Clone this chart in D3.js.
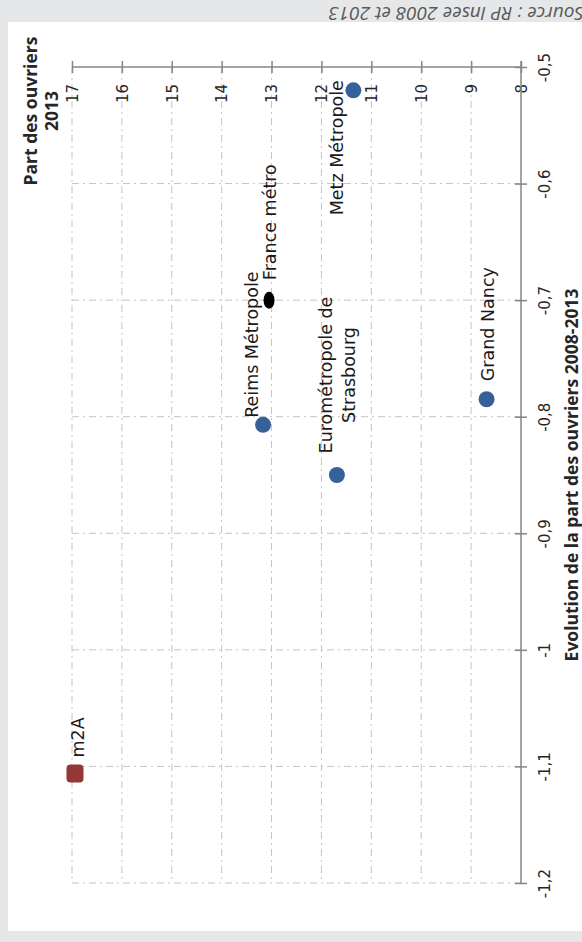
<!DOCTYPE html>
<html>
<head>
<meta charset="utf-8">
<script src="https://cdn.jsdelivr.net/npm/d3@7"></script>
<style>
  html, body { margin: 0; padding: 0; background: #e6e7e8; }
  svg { display: block; }
</style>
</head>
<body>
<svg id="chart" width="582" height="942"></svg>
<script>
// Territories and their values
const territories = ["Metz Métropole", "Grand Nancy", "Reims Métropole", "Eurométropole de Strasbourg", "France métro", "m2A"];
const part2013 = [11.36, 8.69, 13.17, 11.69, 13.05, 16.94];      // % of workers (ouvriers) in 2013
const evol0813 = [-0.52, -0.785, -0.807, -0.85, -0.70, -1.106];  // change in points 2008-2013
const markerKind = ["epci", "epci", "epci", "epci", "france", "m2a"];

// Axis ticks
const partTicks = [8, 9, 10, 11, 12, 13, 14, 15, 16, 17];
const evolTicks = [-1.2, -1.1, -1, -0.9, -0.8, -0.7, -0.6, -0.5];

// Text
const partTitle = ["Part des ouvriers", "2013"];
const evolTitle = "Evolution de la part des ouvriers 2008-2013";
const sourceText = "Source : RP Insee 2008 et 2013";

const fr = d3.formatLocale({ decimal: ",", thousands: " ", grouping: [3], currency: ["", " €"], minus: "-" });
const fmt = fr.format("~g");

const svg = d3.select("#chart");
const labelFont = "'DejaVu Sans', Verdana, sans-serif";
const titleFont = "'Open Sans', sans-serif";

// panel
svg.append("rect").attr("x", 8).attr("y", 22).attr("width", 574).attr("height", 909).attr("fill", "#ffffff");

// source line, set upside down along the top band
svg.append("text")
  .attr("transform", "translate(584,7) rotate(180)")
  .attr("font-family", titleFont).attr("font-style", "italic")
  .attr("font-size", 19).attr("fill", "#595959")
  .text(sourceText);

// The plot is laid out turned a quarter turn: share of workers runs along the top, change runs down the right side
const x = d3.scaleLinear().domain([17, 8]).range([72, 521]);
const y = d3.scaleLinear().domain([-0.5, -1.2]).range([67, 883]);

const grid = svg.append("g").attr("stroke", "#c4c4c4").attr("stroke-width", 1)
  .attr("stroke-dasharray", "7,4,2,4").attr("fill", "none");
grid.selectAll("line.v").data(partTicks.filter(d => d !== 8)).join("line")
  .attr("class", "v")
  .attr("x1", d => x(d)).attr("x2", d => x(d))
  .attr("y1", y(-0.5)).attr("y2", y(-1.2));
grid.selectAll("line.h").data(evolTicks.filter(d => d !== -0.5)).join("line")
  .attr("class", "h")
  .attr("x1", x(17)).attr("x2", x(8))
  .attr("y1", d => y(d)).attr("y2", d => y(d));

const axisColor = "#868686";

// share axis (top)
const gPart = svg.append("g").attr("transform", `translate(0,${y(-0.5)})`)
  .call(d3.axisBottom(x).tickValues(partTicks).tickFormat(fmt).tickSizeOuter(0));
gPart.select(".domain").attr("stroke", axisColor).attr("stroke-width", 1.5)
  .attr("d", `M${x(17)},0H${x(8)}`);
gPart.selectAll(".tick line").attr("stroke", axisColor).attr("stroke-width", 1.5).attr("y1", -6).attr("y2", 6);
gPart.selectAll(".tick text")
  .attr("x", 0).attr("y", 0).attr("dy", "0.35em")
  .attr("transform", "translate(0,17) rotate(-90)")
  .attr("text-anchor", "end")
  .attr("font-family", labelFont).attr("font-size", 15).attr("fill", "#262626");

// change axis (right)
const gEvol = svg.append("g").attr("transform", `translate(${x(8)},0)`)
  .call(d3.axisRight(y).tickValues(evolTicks).tickFormat(fmt).tickSizeOuter(0));
gEvol.select(".domain").attr("stroke", axisColor).attr("stroke-width", 1.5)
  .attr("d", `M0,${y(-0.5) - 6}V${y(-1.2)}`);
gEvol.selectAll(".tick line").attr("stroke", axisColor).attr("stroke-width", 1.5).attr("x1", -6).attr("x2", 6);
gEvol.selectAll(".tick text")
  .attr("x", 0).attr("y", 0).attr("dy", "0.35em")
  .attr("transform", "translate(24,0) rotate(-90)")
  .attr("text-anchor", "middle")
  .attr("font-family", labelFont).attr("font-size", 15).attr("fill", "#262626");

// axis titles
const tTitle = svg.append("text")
  .attr("transform", `translate(31,${y(-0.5) + 44}) rotate(-90)`)
  .attr("text-anchor", "middle")
  .attr("font-family", titleFont).attr("font-weight", 700).attr("font-size", 17.5).attr("fill", "#262626");
tTitle.selectAll("tspan").data(partTitle).join("tspan")
  .attr("x", 0).attr("dy", (d, i) => i === 0 ? "0.35em" : "1.2em").text(d => d);

svg.append("text")
  .attr("transform", `translate(572,${(y(-0.5) + y(-1.2)) / 2}) rotate(-90)`)
  .attr("text-anchor", "middle").attr("dy", "0.35em")
  .attr("font-family", titleFont).attr("font-weight", 700).attr("font-size", 17.5).attr("fill", "#262626")
  .text(evolTitle);

// markers
const pts = territories.map((name, i) => ({ name, part: part2013[i], evol: evol0813[i], kind: markerKind[i] }));
const gPts = svg.append("g");
gPts.selectAll("circle.epci").data(pts.filter(d => d.kind === "epci")).join("circle")
  .attr("class", "epci")
  .attr("cx", d => x(d.part)).attr("cy", d => y(d.evol)).attr("r", 8)
  .attr("fill", "#36609a");
gPts.selectAll("ellipse").data(pts.filter(d => d.kind === "france")).join("ellipse")
  .attr("cx", d => x(d.part)).attr("cy", d => y(d.evol)).attr("rx", 5.5).attr("ry", 8.5)
  .attr("fill", "#000000");
gPts.selectAll("rect").data(pts.filter(d => d.kind === "m2a")).join("rect")
  .attr("x", d => x(d.part) - 8.5).attr("y", d => y(d.evol) - 9)
  .attr("width", 17).attr("height", 18).attr("rx", 4)
  .attr("fill", "#943735");

// data labels, placed beside each marker
const labelPlace = {
  "Metz Métropole":              { dx: -16, dy: 125, anchor: "start", lines: ["Metz Métropole"] },
  "Grand Nancy":                 { dx: 1.5, dy: -18, anchor: "start", lines: ["Grand Nancy"] },
  "Reims Métropole":             { dx: -11, dy: -7, anchor: "start", lines: ["Reims Métropole"] },
  "Eurométropole de Strasbourg": { dx: -11, dy: -100, anchor: "middle", lines: ["Eurométropole de", "Strasbourg"] },
  "France métro":                { dx: 0.5, dy: -20, anchor: "start", lines: ["France métro"] },
  "m2A":                         { dx: 2.5, dy: -16, anchor: "start", lines: ["m2A"] }
};
const gLab = svg.append("g").attr("font-family", labelFont).attr("font-size", 17.5).attr("fill", "#1a1a1a");
pts.forEach(d => {
  const p = labelPlace[d.name];
  const t = gLab.append("text")
    .attr("transform", `translate(${x(d.part) + p.dx},${y(d.evol) + p.dy}) rotate(-90)`)
    .attr("text-anchor", p.anchor);
  t.selectAll("tspan").data(p.lines).join("tspan")
    .attr("x", 0).attr("dy", (s, i) => i === 0 ? "0.35em" : "1.3em").text(s => s);
});
</script>
</body>
</html>
